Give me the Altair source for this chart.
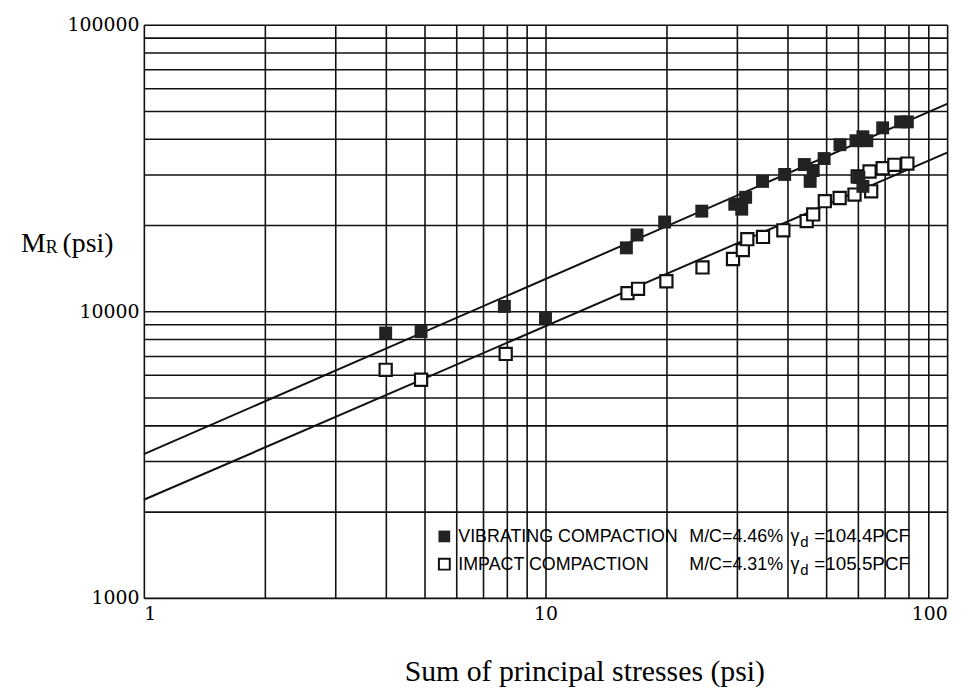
import altair as alt
import pandas as pd

# ---- data ----
vib_x = [4.0, 4.9, 7.9, 10.0, 15.9, 16.9, 19.8, 24.5, 29.6, 30.8, 31.5, 34.7, 39.4,
         44.1, 46.4, 45.6, 49.4, 54.1, 59.3, 61.7, 63.1, 60.3, 61.7, 69.1, 76.6, 79.6]
vib_y = [8400, 8500, 10400, 9500, 16650, 18470, 20490, 22360, 23640, 22720, 24990, 28400, 30030,
         32520, 30990, 28400, 34120, 38140, 39370, 40640, 39370, 29320, 27290, 43670, 45810, 45810]

imp_x = [4.0, 4.9, 7.96, 16.0, 17.0, 20.0, 24.6, 29.3, 31.0, 31.8, 34.8, 39.1, 44.7,
         46.4, 49.6, 54.0, 58.8, 59.9, 64.7, 64.1, 69.1, 73.9, 79.6]
imp_y = [6250, 5770, 7100, 11570, 11980, 12730, 14230, 15220, 16350, 17850, 18180, 19170, 20650,
         21780, 24220, 24850, 25540, 29550, 26220, 30750, 31570, 32440, 32770]

# fitted lines (end points at x = 1 and x = 100)
line_x = [1, 100]
vib_line_y = [3175, 52900]
imp_line_y = [2200, 35800]

x_grid = [1, 2, 3, 4, 5, 6, 7, 8, 9, 10, 20, 30, 40, 50, 60, 70, 80, 90, 100]
y_grid = [1000, 2000, 3000, 4000, 5000, 6000, 7000, 8000, 9000, 10000,
          20000, 30000, 40000, 50000, 60000, 70000, 80000, 90000, 100000]

legend_name = ["VIBRATING COMPACTION", "IMPACT COMPACTION"]
legend_mc = ["M/C=4.46%", "M/C=4.31%"]
legend_gd = ["=104.4PCF", "=105.5PCF"]

W, H = 810, 578
PL, PT = 137, 14

xs = alt.Scale(type="log", domain=[1, 100], nice=False)
ys = alt.Scale(type="log", domain=[1000, 100000], nice=False)

x_axis = alt.Axis(values=x_grid, grid=True, gridColor="#111", gridWidth=1.6, gridOpacity=1,
                  ticks=False, domain=False, labelFont="DejaVu Serif", labelFontSize=19,
                  labelColor="black", labelPadding=7, labelOverlap=False, labelBaseline="top",
                  labelExpr="(datum.value==1||datum.value==10||datum.value==100) ? format(datum.value,'d') : ''",
                  title=None)
y_axis = alt.Axis(values=y_grid, grid=True, gridColor="#111", gridWidth=1.6, gridOpacity=1,
                  ticks=False, domain=False, labelFont="DejaVu Serif", labelFontSize=19,
                  labelColor="black", labelPadding=5, labelOverlap=False,
                  labelExpr="(datum.value==1000||datum.value==10000||datum.value==100000) ? format(datum.value,'d') : ''",
                  title=None)

imp_df = pd.DataFrame({"x": imp_x, "y": imp_y})
vib_df = pd.DataFrame({"x": vib_x, "y": vib_y})
line_df = pd.DataFrame({"x": line_x * 2, "y": vib_line_y + imp_line_y,
                        "s": ["v", "v", "i", "i"]})

lines = alt.Chart(line_df).mark_line(color="#111", strokeWidth=2).encode(
    x=alt.X("x:Q", scale=xs, axis=x_axis),
    y=alt.Y("y:Q", scale=ys, axis=y_axis),
    detail="s:N")

imp_pts = alt.Chart(imp_df).mark_square(size=150, filled=True, fill="white", stroke="#111",
                                        strokeWidth=2.2, opacity=1).encode(
    x=alt.X("x:Q", scale=xs), y=alt.Y("y:Q", scale=ys))
vib_pts = alt.Chart(vib_df).mark_square(size=170, filled=True, color="#222", opacity=1).encode(
    x=alt.X("x:Q", scale=xs), y=alt.Y("y:Q", scale=ys))


def txt(t, x, y, size, font="Liberation Sans", align="left", baseline="alphabetic"):
    return alt.Chart(pd.DataFrame({"t": [t]})).mark_text(
        font=font, fontSize=size, color="black", align=align, baseline=baseline
    ).encode(text="t:N", x=alt.value(x), y=alt.value(y))


def sym(x, y, filled):
    if filled:
        m = alt.Chart(pd.DataFrame({"a": [0]})).mark_square(size=140, filled=True, color="#222", opacity=1)
    else:
        m = alt.Chart(pd.DataFrame({"a": [0]})).mark_square(size=120, filled=True, fill="white",
                                                               stroke="#111", strokeWidth=2, opacity=1)
    return m.encode(x=alt.value(x - PL), y=alt.value(y - PT))


annots = []
# y-axis title  M_R (psi)
annots.append(txt("M", 13 - PL, 243 - PT, 28, font="Liberation Serif"))
annots.append(txt("R", 38 - PL, 244 - PT, 18, font="Liberation Serif"))
annots.append(txt("(psi)", 55 - PL, 243 - PT, 28, font="Liberation Serif"))
# x-axis title
annots.append(txt("Sum of principal stresses (psi)", 400 - PL, 676 - PT, 30, font="Liberation Serif"))

# legend
row_base = [536, 564]
for i in range(2):
    b = row_base[i]
    annots.append(sym(440, b - 6, i == 0))
    annots.append(txt(legend_name[i], 454 - PL, b - PT, 18))
    annots.append(txt(legend_mc[i], 687 - PL, b - PT, 18))
    annots.append(txt("γ", 789 - PL, b - PT, 18))
    annots.append(txt("d", 799 - PL, b + 5 - PT, 15))
    annots.append(txt(legend_gd[i], 813 - PL, b - PT, 19))

chart = alt.layer(lines, imp_pts, vib_pts, *annots).properties(
    width=W, height=H,
    autosize=alt.AutoSizeParams(type="none"),
    padding={"left": PL, "top": PT, "right": 16, "bottom": 88},
).configure_view(stroke="black", strokeWidth=2.5).configure(background="white")

chart.save("out.html", embed_options={"renderer": "svg", "actions": False})
